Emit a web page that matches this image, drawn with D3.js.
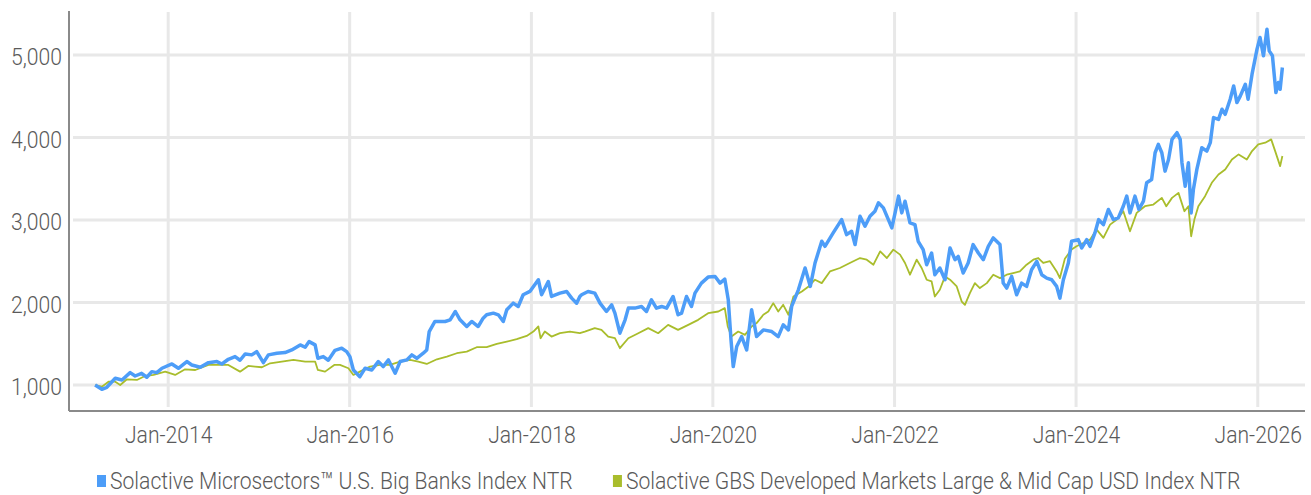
<!DOCTYPE html>
<meta charset="utf-8">
<style>
body { margin: 0; background: #fff; }
svg text {
  font-family: Roboto, "Noto Sans", sans-serif;
  font-weight: 300;
  fill: #5a5a5a;
}
.grid line { stroke: #e8e8e8; stroke-width: 3; }
.axisline { stroke: #8a8a8a; stroke-width: 2; }
</style>
<svg width="1311" height="495"></svg>
<script src="https://d3js.org/d3.v7.min.js"></script>
<script>

// index levels (date, value)
var bigBanks = [
  ["2013-03-13",1000],["2013-04-09",948],["2013-04-29",972],["2013-06-02",1081],["2013-06-29",1061],
  ["2013-08-01",1150],["2013-08-21",1109],["2013-09-16",1142],["2013-10-07",1094],["2013-10-27",1162],
  ["2013-11-16",1150],["2013-12-07",1203],["2014-01-16",1255],["2014-02-11",1203],["2014-03-17",1284],
  ["2014-04-06",1243],["2014-05-10",1215],["2014-06-12",1271],["2014-07-16",1284],["2014-08-05",1255],
  ["2014-08-31",1312],["2014-09-27",1344],["2014-10-17",1300],["2014-11-07",1377],["2014-12-03",1365],
  ["2014-12-23",1405],["2015-01-19",1271],["2015-02-08",1365],["2015-03-14",1385],["2015-04-16",1393],
  ["2015-05-13",1425],["2015-06-16",1486],["2015-07-06",1458],["2015-07-22",1526],["2015-08-15",1486],
  ["2015-08-26",1324],["2015-09-17",1344],["2015-10-07",1300],["2015-11-03",1420],["2015-11-30",1446],
  ["2015-12-20",1405],["2016-01-02",1344],["2016-01-16",1182],["2016-02-11",1101],["2016-03-03",1203],
  ["2016-03-30",1182],["2016-04-25",1284],["2016-05-15",1223],["2016-06-05",1304],["2016-07-02",1142],
  ["2016-07-22",1284],["2016-08-18",1304],["2016-09-07",1365],["2016-09-27",1324],["2016-10-23",1385],
  ["2016-11-06",1425],["2016-11-16",1648],["2016-12-09",1770],["2017-01-19",1770],["2017-02-08",1790],
  ["2017-03-01",1891],["2017-03-20",1790],["2017-04-16",1709],["2017-05-06",1770],["2017-06-01",1709],
  ["2017-06-21",1810],["2017-07-05",1851],["2017-08-01",1871],["2017-08-21",1851],["2017-09-10",1770],
  ["2017-09-24",1911],["2017-10-20",1992],["2017-11-09",1952],["2017-11-29",2094],["2017-12-26",2134],
  ["2018-01-29",2276],["2018-02-11",2094],["2018-03-10",2255],["2018-03-23",2073],["2018-04-26",2114],
  ["2018-05-23",2134],["2018-06-12",2053],["2018-07-02",1992],["2018-07-15",2073],["2018-07-22",2094],
  ["2018-08-17",2134],["2018-09-13",2114],["2018-10-04",1992],["2018-10-30",1891],["2018-11-20",1972],
  ["2018-12-03",1871],["2018-12-23",1628],["2019-01-13",1790],["2019-01-26",1932],["2019-02-21",1932],
  ["2019-03-20",1952],["2019-04-09",1891],["2019-04-29",2033],["2019-05-19",1932],["2019-06-09",1952],
  ["2019-06-29",1932],["2019-07-25",2073],["2019-08-14",1851],["2019-08-28",1871],["2019-09-17",2073],
  ["2019-10-07",1952],["2019-10-21",2114],["2019-11-16",2235],["2019-12-13",2308],["2020-01-10",2316],
  ["2020-01-30",2235],["2020-02-18",2284],["2020-03-03",2033],["2020-03-14",1547],["2020-03-23",1223],
  ["2020-04-06",1466],["2020-04-26",1587],["2020-05-16",1425],["2020-06-05",1911],["2020-06-25",1587],
  ["2020-07-22",1668],["2020-08-25",1648],["2020-09-20",1587],["2020-10-10",1729],["2020-10-31",1668],
  ["2020-11-13",1952],["2020-12-10",2154],["2021-01-06",2418],["2021-01-27",2195],["2021-02-15",2479],
  ["2021-03-14",2742],["2021-03-27",2681],["2021-04-29",2843],["2021-06-02",3005],["2021-06-22",2823],
  ["2021-07-12",2863],["2021-07-26",2702],["2021-08-15",3045],["2021-09-04",2924],["2021-09-24",3045],
  ["2021-10-14",3106],["2021-10-28",3208],["2021-11-17",3147],["2021-12-07",3005],["2021-12-21",2904],
  ["2022-01-03",3086],["2022-01-17",3289],["2022-01-30",3086],["2022-02-12",3228],["2022-03-04",2965],
  ["2022-03-24",2944],["2022-04-06",2742],["2022-04-26",2641],["2022-05-10",2458],["2022-05-30",2600],
  ["2022-06-12",2337],["2022-07-02",2418],["2022-07-23",2276],["2022-08-12",2661],["2022-09-01",2519],
  ["2022-09-14",2559],["2022-10-04",2357],["2022-10-24",2479],["2022-11-13",2702],["2022-12-04",2600],
  ["2022-12-24",2519],["2023-01-13",2681],["2023-02-02",2783],["2023-03-01",2702],["2023-03-14",2235],
  ["2023-03-28",2175],["2023-04-17",2316],["2023-05-07",2094],["2023-05-27",2235],["2023-06-16",2195],
  ["2023-07-06",2397],["2023-07-27",2498],["2023-08-16",2337],["2023-09-05",2296],["2023-09-25",2276],
  ["2023-10-15",2195],["2023-10-28",2053],["2023-11-11",2276],["2023-12-01",2479],["2023-12-14",2742],
  ["2024-01-10",2762],["2024-01-24",2661],["2024-02-13",2762],["2024-02-26",2681],["2024-03-17",2843],
  ["2024-04-01",3005],["2024-04-20",2944],["2024-05-10",3127],["2024-05-30",3005],["2024-06-19",3025],
  ["2024-07-09",3167],["2024-07-23",3289],["2024-08-05",3086],["2024-08-25",3289],["2024-09-10",3127],
  ["2024-09-28",3228],["2024-10-11",3451],["2024-10-31",3491],["2024-11-14",3815],["2024-11-27",3916],
  ["2024-12-11",3815],["2024-12-24",3592],["2025-01-07",3734],["2025-01-21",3977],["2025-02-10",4058],
  ["2025-02-23",3977],["2025-03-02",3694],["2025-03-15",3410],["2025-03-28",3694],["2025-04-08",3086],
  ["2025-04-17",3369],["2025-05-01",3613],["2025-05-21",3876],["2025-06-10",3835],["2025-06-24",3937],
  ["2025-07-07",4241],["2025-07-27",4220],["2025-08-10",4342],["2025-08-23",4281],["2025-09-12",4463],
  ["2025-09-26",4625],["2025-10-09",4423],["2025-10-23",4504],["2025-11-12",4645],["2025-11-23",4463],
  ["2025-12-09",4767],["2025-12-29",5071],["2026-01-10",5213],["2026-01-24",4990],["2026-02-07",5313],
  ["2026-02-16",5050],["2026-03-01",4990],["2026-03-15",4544],["2026-03-25",4666],["2026-04-01",4585],
  ["2026-04-10",4848]
];

var gbsDeveloped = [
  ["2013-03-13",1000],["2013-04-09",980],["2013-05-06",1040],["2013-06-02",1040],["2013-06-22",1000],
  ["2013-07-19",1069],["2013-08-28",1061],["2013-09-30",1109],["2013-11-03",1122],["2013-12-20",1162],
  ["2014-01-29",1122],["2014-03-10",1190],["2014-04-20",1182],["2014-06-12",1243],["2014-07-22",1243],
  ["2014-08-31",1243],["2014-10-17",1162],["2014-11-19",1231],["2014-12-16",1223],["2015-01-13",1215],
  ["2015-02-15",1263],["2015-04-03",1284],["2015-05-20",1304],["2015-07-06",1284],["2015-08-15",1284],
  ["2015-08-26",1182],["2015-09-24",1162],["2015-10-31",1243],["2015-11-23",1243],["2015-12-27",1203],
  ["2016-01-16",1122],["2016-02-11",1162],["2016-03-23",1223],["2016-05-02",1243],["2016-06-11",1243],
  ["2016-07-22",1284],["2016-08-31",1304],["2016-10-03",1284],["2016-11-06",1255],["2016-12-17",1312],
  ["2017-01-26",1344],["2017-03-07",1385],["2017-04-16",1405],["2017-05-26",1458],["2017-07-05",1458],
  ["2017-08-15",1498],["2017-09-24",1526],["2017-11-03",1555],["2017-12-13",1595],["2018-01-09",1648],
  ["2018-01-29",1709],["2018-02-07",1567],["2018-02-24",1648],["2018-03-23",1587],["2018-04-26",1628],
  ["2018-06-05",1648],["2018-07-15",1630],["2018-08-04",1648],["2018-09-13",1689],["2018-10-10",1668],
  ["2018-11-06",1587],["2018-12-03",1567],["2018-12-23",1446],["2019-01-26",1567],["2019-03-07",1628],
  ["2019-04-16",1689],["2019-05-26",1628],["2019-07-05",1729],["2019-08-14",1668],["2019-09-24",1729],
  ["2019-11-03",1790],["2019-12-13",1871],["2020-01-23",1891],["2020-02-18",1932],["2020-03-01",1709],
  ["2020-03-16",1587],["2020-04-12",1648],["2020-05-09",1608],["2020-06-05",1709],["2020-06-25",1750],
  ["2020-07-22",1851],["2020-08-11",1891],["2020-08-31",1992],["2020-09-20",1891],["2020-10-10",1972],
  ["2020-10-31",1851],["2020-11-20",2073],["2020-12-24",2134],["2021-01-20",2195],["2021-02-15",2276],
  ["2021-03-14",2235],["2021-04-16",2377],["2021-05-26",2418],["2021-07-05",2479],["2021-08-15",2539],
  ["2021-09-11",2519],["2021-10-08",2458],["2021-11-04",2620],["2021-12-01",2539],["2021-12-27",2641],
  ["2022-01-23",2580],["2022-02-12",2479],["2022-03-04",2337],["2022-03-31",2519],["2022-04-20",2418],
  ["2022-05-10",2276],["2022-05-30",2255],["2022-06-12",2073],["2022-07-02",2154],["2022-07-23",2316],
  ["2022-08-12",2276],["2022-09-08",2195],["2022-09-28",2012],["2022-10-11",1972],["2022-10-31",2114],
  ["2022-11-20",2235],["2022-12-10",2175],["2023-01-07",2235],["2023-02-02",2337],["2023-03-01",2296],
  ["2023-03-28",2337],["2023-04-23",2357],["2023-05-20",2377],["2023-06-16",2458],["2023-07-13",2519],
  ["2023-08-02",2539],["2023-08-22",2479],["2023-09-18",2500],["2023-10-15",2377],["2023-10-28",2296],
  ["2023-11-17",2530],["2023-12-14",2641],["2024-01-03",2681],["2024-01-30",2722],["2024-02-26",2762],
  ["2024-03-24",2884],["2024-04-20",2783],["2024-05-17",2944],["2024-06-13",3005],["2024-07-09",3106],
  ["2024-08-05",2863],["2024-09-01",3086],["2024-10-04",3167],["2024-11-07",3187],["2024-12-11",3268],
  ["2024-12-29",3167],["2025-01-21",3268],["2025-02-16",3329],["2025-03-12",3106],["2025-03-28",3167],
  ["2025-04-08",2803],["2025-04-21",3005],["2025-05-07",3167],["2025-06-03",3289],["2025-06-30",3451],
  ["2025-07-27",3552],["2025-08-23",3613],["2025-09-19",3734],["2025-10-16",3795],["2025-11-18",3734],
  ["2025-12-09",3835],["2026-01-03",3916],["2026-01-31",3937],["2026-02-24",3977],["2026-03-12",3835],
  ["2026-04-01",3653],["2026-04-10",3775]
];

var seriesNames = [
  "Solactive Microsectors\u2122 U.S. Big Banks Index NTR",
  "Solactive GBS Developed Markets Large & Mid Cap USD Index NTR"
];
var seriesColors = ["#4d9df8", "#a9bd2c"];
var yTicks = [1000, 2000, 3000, 4000, 5000];
var xTickYears = [2014, 2016, 2018, 2020, 2022, 2024, 2026];

var svg = d3.select("svg");
var margin = {top: 12, right: 6, bottom: 85, left: 70},
    width = 1311, height = 495;

var parse = d3.utcParse("%Y-%m-%d");

var x = d3.scaleUtc()
    .domain([new Date(Date.UTC(2012, 11, 2)), new Date(Date.UTC(2026, 6, 10))])
    .range([margin.left, width - margin.right]);

var y = d3.scaleLinear()
    .domain([697, 5521])
    .range([height - margin.bottom, margin.top]);

var xTicks = xTickYears.map(function(yr) { return new Date(Date.UTC(yr, 0, 1)); });

// the original uses a narrow DIN-like face, so squeeze the text horizontally
var squeeze = 0.88;
function narrow(sel) {
  sel.each(function() {
    var t = d3.select(this);
    var tx = +t.attr("x") || 0;
    t.attr("x", 0).attr("transform", "translate(" + tx + ",0) scale(" + squeeze + ",1)");
  });
}

// grid
var grid = svg.append("g").attr("class", "grid");
grid.selectAll(".h").data(yTicks).enter().append("line")
    .attr("x1", margin.left + 3).attr("x2", width - margin.right)
    .attr("y1", function(d) { return y(d); }).attr("y2", function(d) { return y(d); });
grid.selectAll(".v").data(xTicks).enter().append("line")
    .attr("x1", function(d) { return x(d); }).attr("x2", function(d) { return x(d); })
    .attr("y1", margin.top).attr("y2", height - margin.bottom - 3);

// y axis
var yAxis = svg.append("g")
    .attr("transform", "translate(" + margin.left + ",2)")
    .call(d3.axisLeft(y).tickValues(yTicks).tickFormat(d3.format(",")).tickSize(0).tickPadding(8));
yAxis.select(".domain").remove();
yAxis.selectAll("text").style("font-size", "24px").call(narrow);

// x axis
var xAxis = svg.append("g")
    .attr("transform", "translate(0," + (height - margin.bottom) + ")")
    .call(d3.axisBottom(x).tickValues(xTicks).tickFormat(d3.utcFormat("%b-%Y")).tickSize(0).tickPadding(16));
xAxis.select(".domain").remove();
xAxis.selectAll("text").style("font-size", "24px").call(narrow);

svg.append("line").attr("class", "axisline")
    .attr("x1", margin.left - 1).attr("x2", margin.left - 1)
    .attr("y1", margin.top - 1).attr("y2", height - margin.bottom + 1);
svg.append("line").attr("class", "axisline")
    .attr("x1", margin.left - 1).attr("x2", width - margin.right)
    .attr("y1", height - margin.bottom + 1).attr("y2", height - margin.bottom + 1);

// lines
var line = d3.line()
    .x(function(d) { return x(parse(d[0])); })
    .y(function(d) { return y(d[1]); });

svg.append("path").datum(gbsDeveloped)
    .attr("fill", "none").attr("stroke", seriesColors[1]).attr("stroke-width", 1.8)
    .attr("stroke-linejoin", "round").attr("d", line);
svg.append("path").datum(bigBanks)
    .attr("fill", "none").attr("stroke", seriesColors[0]).attr("stroke-width", 3.5)
    .attr("stroke-linejoin", "round").attr("d", line);

// legend
var legend = svg.append("g").attr("transform", "translate(0,481)");
var lx = 97;
seriesNames.forEach(function(name, i) {
  var g = legend.append("g").attr("transform", "translate(" + lx + ",0)");
  g.append("rect").attr("x", 0).attr("y", -6).attr("width", 9).attr("height", 12)
      .attr("fill", seriesColors[i]);
  var t = g.append("text").attr("x", 13).attr("y", 0).attr("dy", "0.35em")
      .style("font-size", "24px").text(name);
  var w = t.node().getComputedTextLength() * squeeze;
  t.call(narrow);
  lx += 13 + w + 40;
});

</script>
